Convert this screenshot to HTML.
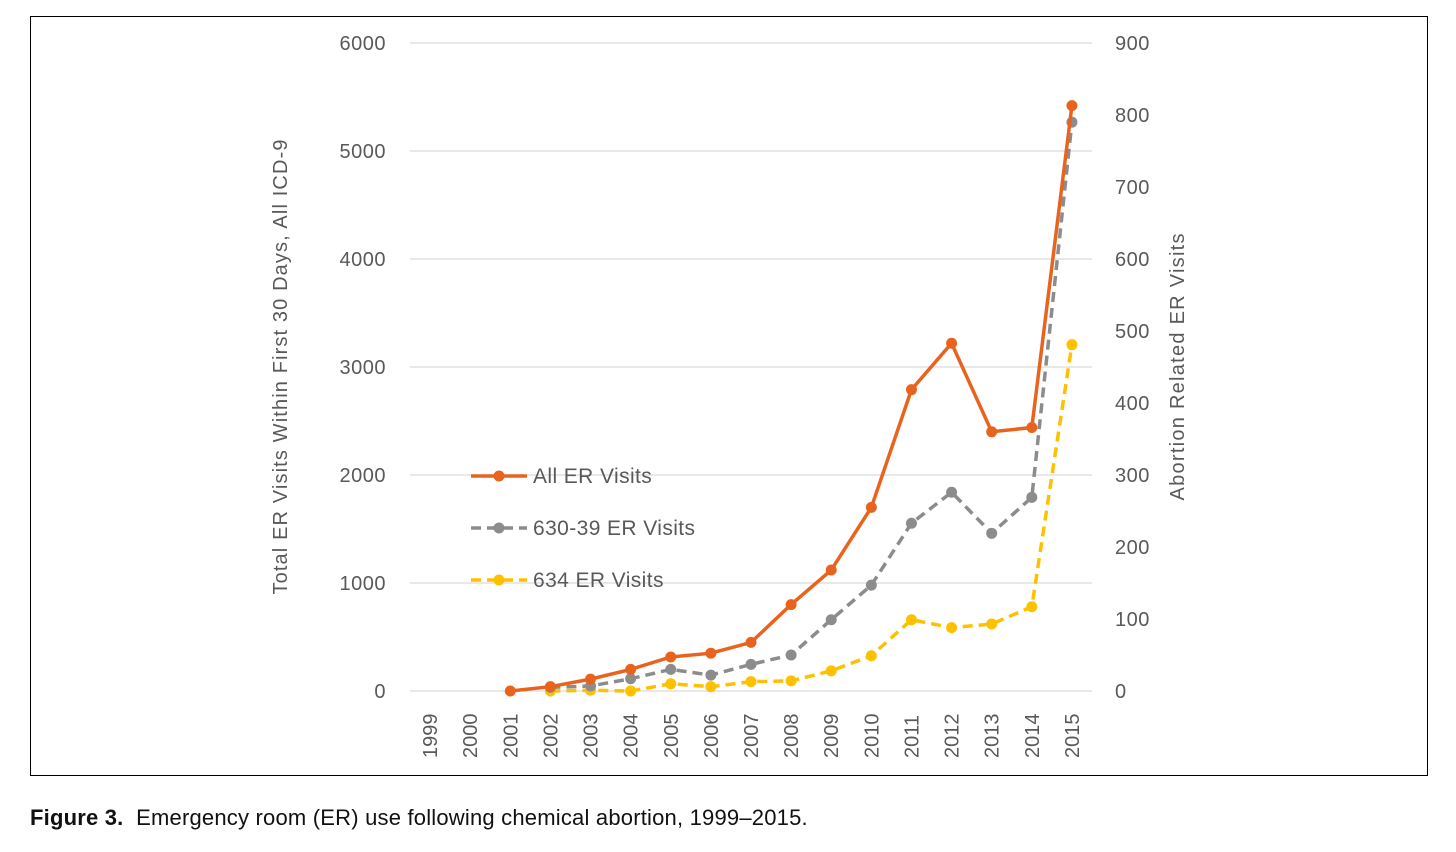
<!DOCTYPE html>
<html><head><meta charset="utf-8"><style>
body{margin:0;background:#fff;width:1456px;height:852px;overflow:hidden;font-family:"Liberation Sans",sans-serif}
#frame{position:absolute;left:30px;top:16px;width:1396px;height:758px;border:1.5px solid #000}
#cap{position:absolute;left:30px;top:805px;font-size:22px;letter-spacing:0.2px;color:#111}
</style></head><body>
<div id="frame"></div>
<svg id="chart" width="1456" height="852" style="position:absolute;left:0;top:0"></svg>
<div id="cap"><b>Figure 3.</b>&nbsp; Emergency room (ER) use following chemical abortion, 1999–2015.</div>
<script>
const years=["1999","2000","2001","2002","2003","2004","2005","2006","2007","2008","2009","2010","2011","2012","2013","2014","2015"];
const allER=[null,null,0,40,110,200,315,350,450,800,1120,1700,2790,3220,2400,2440,5420];
const er63039=[null,null,null,5,7,17,30,22,37,50,99,147,233,276,219,269,790];
const er634=[null,null,null,0,1,0,10,6,13,14,28,49,99,88,93,117,481];
const leftTicks=[0,1000,2000,3000,4000,5000,6000];
const rightTicks=[0,100,200,300,400,500,600,700,800,900];
const svg=document.getElementById('chart');const NS='http://www.w3.org/2000/svg';
const X0=410,X1=1092,Y0=691,Y1=43;
const xs=i=>X0+(i+0.5)*(X1-X0)/years.length;
const yl=v=>Y0-(v/6000)*(Y0-Y1);
const yr=v=>Y0-(v/900)*(Y0-Y1);
function mk(t,a,name){const e=document.createElementNS(NS,t);for(const k in a)e.setAttribute(k,a[k]);


svg.appendChild(e);return e;}
leftTicks.forEach(v=>{mk('line',{x1:X0,x2:X1,y1:yl(v),y2:yl(v),stroke:'#d9d9d9','stroke-width':1.3},'gridline');
const t=mk('text',{x:386,y:yl(v)+7,'text-anchor':'end','font-size':20,fill:'#595959','letter-spacing':0.5},'left-tick-label');t.textContent=v;});
rightTicks.forEach(v=>{const t=mk('text',{x:1115,y:yr(v)+7,'font-size':20,fill:'#595959','letter-spacing':0.5},'right-tick-label');t.textContent=v;});
years.forEach((y,i)=>{const t=mk('text',{transform:`translate(${xs(i)+7},758) rotate(-90)`,'font-size':20,fill:'#595959'},'x-tick-label');t.textContent=y;});
let t=mk('text',{transform:'translate(290,367) rotate(-90)','text-anchor':'middle','font-size':20,fill:'#595959',textLength:455,lengthAdjust:'spacing',x:0,y:-3},'left-axis-title');t.textContent='Total ER Visits Within First 30 Days, All ICD-9';
t=mk('text',{transform:'translate(1185,367) rotate(-90)','text-anchor':'middle','font-size':20,fill:'#595959',textLength:267,lengthAdjust:'spacing',x:0,y:-1},'right-axis-title');t.textContent='Abortion Related ER Visits';
function series(data,sc,color,dash,name){let pts=[];data.forEach((v,i)=>{if(v!==null)pts.push([xs(i),sc(v)]);});
mk('polyline',{points:pts.map(p=>p.join(',')).join(' '),fill:'none',stroke:color,'stroke-width':3.5,'stroke-dasharray':dash},name+'-line');
pts.forEach(q=>mk('circle',{cx:q[0],cy:q[1],r:5.5,fill:color},name+'-point'));}
series(er634,yr,'#ffc000','10,6','er-634');
series(er63039,yr,'#8c8c8c','10,6','er-630-39');
series(allER,yl,'#e8641e','','all-er');
[['All ER Visits','#e8641e','',476],['630-39 ER Visits','#8c8c8c','10,6',528],['634 ER Visits','#ffc000','10,6',580]].forEach(l=>{
mk('line',{x1:471,x2:527,y1:l[3],y2:l[3],stroke:l[1],'stroke-width':3.5,'stroke-dasharray':l[2]},'legend-line');
mk('circle',{cx:499,cy:l[3],r:5.5,fill:l[1]},'legend-marker');
const tt=mk('text',{x:533,y:l[3]+7,'font-size':21,fill:'#595959','letter-spacing':0.4},'legend-entry');tt.textContent=l[0];});
</script>
</body></html>
